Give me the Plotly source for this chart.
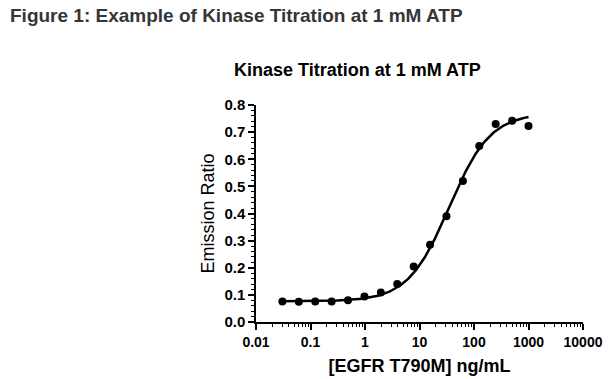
import numpy as np
import plotly.graph_objects as go

# Data
conc_ng_ml = [1000, 500, 250, 125, 62.5, 31.25, 15.625, 7.8125, 3.90625,
              1.953125, 0.9765625, 0.48828125, 0.244140625, 0.1220703125,
              0.06103515625, 0.030517578125]
emission_ratio = [0.723, 0.742, 0.730, 0.649, 0.520, 0.390, 0.285, 0.205, 0.140,
                  0.109, 0.094, 0.080, 0.076, 0.076, 0.075, 0.076]

# Fitted 4-parameter logistic curve parameters
fit_bottom = 0.076
fit_top = 0.77
fit_ec50 = 35.0
fit_hill = 1.15

x_ticks = [0.01, 0.1, 1, 10, 100, 1000, 10000]
x_tick_labels = ["0.01", "0.1", "1", "10", "100", "1000", "10000"]
y_ticks = [0.0, 0.1, 0.2, 0.3, 0.4, 0.5, 0.6, 0.7, 0.8]
y_tick_labels = ["0.0", "0.1", "0.2", "0.3", "0.4", "0.5", "0.6", "0.7", "0.8"]

xc = np.logspace(np.log10(min(conc_ng_ml)), np.log10(max(conc_ng_ml)), 300)
yc = fit_bottom + (fit_top - fit_bottom) / (1 + (fit_ec50 / xc) ** fit_hill)

W, H = 614, 379
L, R, T, B = 255.7, 583.3, 105.0, 322.3

fig = go.Figure()
fig.add_trace(go.Scatter(x=xc, y=yc, mode="lines",
                         line=dict(color="black", width=2.5), hoverinfo="skip"))
fig.add_trace(go.Scatter(x=conc_ng_ml, y=emission_ratio, mode="markers",
                         marker=dict(color="black", size=8)))

font_b = "Arial, 'Liberation Sans', sans-serif"
fig.update_layout(
    width=W, height=H,
    margin=dict(l=L, r=W - R, t=T, b=H - B, pad=0, autoexpand=False),
    paper_bgcolor="white", plot_bgcolor="white",
    showlegend=False,
    font=dict(family=font_b, color="black"),
    xaxis=dict(type="log", range=[-2, 4], showgrid=False, zeroline=False,
               automargin=False,
               showline=True, linecolor="black", linewidth=1.5,
               ticks="outside", ticklen=6, tickwidth=1.5, tickcolor="black",
               tickvals=x_ticks, ticktext=x_tick_labels,
               tickfont=dict(size=14, family=font_b, weight="bold"),
               minor=dict(ticks="outside", ticklen=3, tickwidth=1.2, tickcolor="black",
                          tickvals=[m * 10 ** e for e in range(-2, 4) for m in range(2, 10)],
                          showgrid=False),
               title=dict(text="[EGFR T790M] ng/mL", standoff=11,
                          font=dict(size=18, family=font_b, weight="bold"))),
    yaxis=dict(range=[0, 0.8], showgrid=False, zeroline=False,
               automargin=False,
               showline=True, linecolor="black", linewidth=1.5,
               ticks="outside", ticklen=6, tickwidth=1.5, tickcolor="black",
               tickvals=y_ticks, ticktext=y_tick_labels,
               tickfont=dict(size=15, family=font_b, weight="bold"),
               minor=dict(ticks="outside", ticklen=3, tickwidth=1.2, tickcolor="black",
                          dtick=0.02, showgrid=False),
               title=dict(text="Emission Ratio", standoff=5,
                          font=dict(size=18, family=font_b))),
    annotations=[
        dict(text="<b>Figure 1: Example of Kinase Titration at 1 mM ATP</b>",
             xref="paper", yref="paper",
             x=(7 - L) / (R - L), y=(B - 15) / (B - T),
             xanchor="left", yanchor="middle", showarrow=False,
             font=dict(size=19, family=font_b, color="#363636")),
        dict(text="<b>Kinase Titration at 1 mM ATP</b>",
             xref="paper", yref="paper",
             x=(357 - L) / (R - L), y=(B - 70) / (B - T),
             xanchor="center", yanchor="middle", showarrow=False,
             font=dict(size=18, family=font_b, color="black")),
    ],
)

fig.write_html("out.html", config={"displayModeBar": False},
               post_script="document.body.style.margin='0';document.body.style.padding='0';")
